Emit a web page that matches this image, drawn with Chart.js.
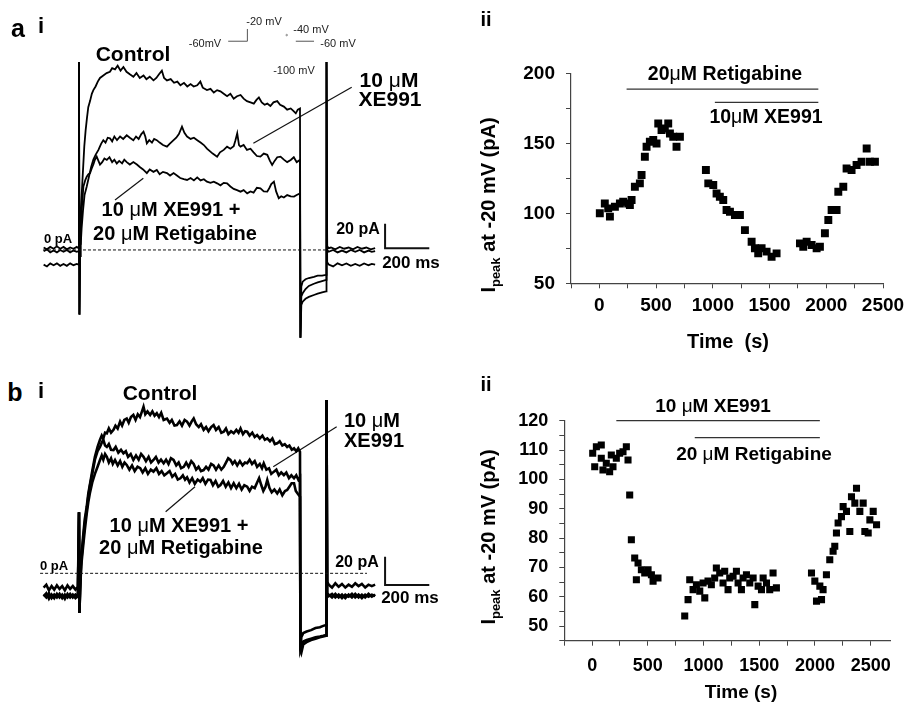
<!DOCTYPE html>
<html>
<head>
<meta charset="utf-8">
<script src="https://cdn.jsdelivr.net/npm/chart.js@4.4.1/dist/chart.umd.min.js"></script>
<style>
  body { margin: 0; background: #fff; width: 908px; height: 707px; position: relative; overflow: hidden;
         font-family: "Liberation Sans", Arial, sans-serif; }
  canvas { position: absolute; }
  .t { position: absolute; font-weight: bold; white-space: nowrap; line-height: 1;
       transform: translate(-50%, -50%); color: #000; }
  .t .mu { font-weight: normal; }
  .p { position: absolute; white-space: nowrap; line-height: 1; font-size: 11px; color: #222;
       transform: translate(-50%, -50%); }
  .yt { position: absolute; font-weight: bold; white-space: nowrap; line-height: 1; font-size: 20px;
        transform: translate(-50%, -50%) rotate(-90deg); }
  .yt sub { font-size: 13px; }
</style>
</head>
<body>

<canvas id="ai" width="410" height="300" style="left:30px;top:50px"></canvas>
<canvas id="proto" width="115" height="40" style="left:215px;top:15px"></canvas>
<canvas id="aii" width="408" height="290" style="left:500px;top:50px"></canvas>
<canvas id="bi" width="410" height="315" style="left:30px;top:385px"></canvas>
<canvas id="bii" width="418" height="317" style="left:490px;top:390px"></canvas>

<!-- panel a -->
<div class="t" style="left:18px;top:28px;font-size:25px">a</div>
<div class="t" style="left:41px;top:26px;font-size:22px">i</div>
<div class="t" style="left:486px;top:19px;font-size:20px">ii</div>
<div class="t" style="left:133px;top:53px;font-size:21px">Control</div>
<div class="t" style="left:389px;top:79px;font-size:21px">10 <span class="mu">μ</span>M</div>
<div class="t" style="left:390px;top:98px;font-size:21px">XE991</div>
<div class="t" style="left:171px;top:209px;font-size:20px">10 <span class="mu">μ</span>M XE991 +</div>
<div class="t" style="left:175px;top:233px;font-size:20px">20 <span class="mu">μ</span>M Retigabine</div>
<div class="t" style="left:58px;top:238px;font-size:13px">0 pA</div>
<div class="t" style="left:358px;top:229px;font-size:16px">20 pA</div>
<div class="t" style="left:411px;top:262px;font-size:17px">200 ms</div>
<div class="p" style="left:205px;top:43px">-60mV</div>
<div class="p" style="left:264px;top:21px">-20 mV</div>
<div class="p" style="left:311px;top:29px">-40 mV</div>
<div class="p" style="left:338px;top:43px">-60 mV</div>
<div class="p" style="left:294px;top:70px">-100 mV</div>
<div class="t" style="left:725px;top:74px;font-size:19.5px">20<span class="mu">μ</span>M Retigabine</div>
<div class="t" style="left:766px;top:117px;font-size:19.5px">10<span class="mu">μ</span>M XE991</div>
<div class="t" style="left:728px;top:341px;font-size:20px">Time&nbsp;&nbsp;(s)</div>
<div class="yt" style="left:490px;top:205px">I<sub>peak</sub> at -20 mV (pA)</div>

<!-- panel b -->
<div class="t" style="left:15px;top:392px;font-size:25px">b</div>
<div class="t" style="left:41px;top:391px;font-size:22px">i</div>
<div class="t" style="left:486px;top:384px;font-size:20px">ii</div>
<div class="t" style="left:160px;top:392px;font-size:21px">Control</div>
<div class="t" style="left:372px;top:420px;font-size:20px">10 <span class="mu">μ</span>M</div>
<div class="t" style="left:374px;top:440px;font-size:20px">XE991</div>
<div class="t" style="left:179px;top:525px;font-size:20px">10 <span class="mu">μ</span>M XE991 +</div>
<div class="t" style="left:181px;top:547px;font-size:20px">20 <span class="mu">μ</span>M Retigabine</div>
<div class="t" style="left:54px;top:565px;font-size:13px">0 pA</div>
<div class="t" style="left:357px;top:562px;font-size:16px">20 pA</div>
<div class="t" style="left:410px;top:597px;font-size:17px">200 ms</div>
<div class="t" style="left:713px;top:405px;font-size:19px">10 <span class="mu">μ</span>M XE991</div>
<div class="t" style="left:754px;top:453px;font-size:19px">20 <span class="mu">μ</span>M Retigabine</div>
<div class="t" style="left:741px;top:691px;font-size:19px">Time (s)</div>
<div class="yt" style="left:490px;top:537px">I<sub>peak</sub> at -20 mV (pA)</div>

<script>
// ---- panel a ii: peak current at -20 mV vs time ----
const aTime = [4, 48, 93, 78, 137, 181, 210, 254, 284, 269, 313, 357, 372, 401, 416, 445, 475, 504, 519, 548, 577, 607, 622, 651, 680, 710,
  939, 960, 1004, 1033, 1062, 1092, 1121, 1151, 1195, 1239, 1283, 1342, 1371, 1400, 1430, 1474, 1518, 1562,
  1768, 1797, 1827, 1871, 1915, 1944, 1988, 2018, 2047, 2091, 2106, 2150, 2179, 2223, 2267, 2311, 2356, 2385, 2429];
const aIpeak = [100, 107, 97.6, 103.5, 104.7, 107, 108.3, 107, 109.5, 105.9, 119, 121.4, 127.3, 140.4, 147.5, 151.1, 152.3, 149.9, 164.2, 159.4, 160.6, 164.2, 157, 154.7, 147.5, 154.7,
  130.9, 121.4, 120.2, 114.2, 111.8, 109.5, 102.3, 101.1, 98.8, 98.8, 88, 79.7, 75, 71.4, 75, 72.6, 69, 71.4,
  78.5, 76.1, 79.7, 77.3, 75, 76.1, 85.7, 95.2, 102.3, 102.3, 115.4, 119, 132, 130.9, 134.5, 136.8, 146.3, 136.8, 136.8];
const aRetigabinePeriod = [240, 1930];
const aXE991Period = [1018, 1930];
const aTimeTicks = [0, 500, 1000, 1500, 2000, 2500];
const aIpeakTicks = [50, 100, 150, 200];

// ---- panel b ii ----
const bTime = [5, 38, 82, 23, 82, 97, 127, 157, 172, 187, 217, 247, 277, 307, 322, 337, 352, 382, 412, 397, 442, 472, 502, 532, 547, 591,
  831, 861, 876, 906, 936, 966, 996, 1011, 1040, 1070, 1100, 1115, 1145, 1175, 1190, 1220, 1235, 1265, 1295, 1310, 1340, 1355, 1385, 1415, 1445, 1460, 1490, 1520, 1535, 1565, 1594, 1624, 1654,
  1969, 1999, 2014, 2044, 2059, 2073, 2103, 2133, 2163, 2178, 2193, 2208, 2238, 2253, 2283, 2313, 2328, 2358, 2373, 2403, 2433, 2448, 2478, 2493, 2523, 2553];
const bIpeak = [108.9, 111.1, 111.7, 104.3, 107.2, 103.2, 105.5, 102.6, 108.3, 104.3, 107.2, 108.9, 109.4, 111.1, 106.6, 94.7, 79.4, 73.2, 71.5, 65.8, 69.2, 68.1, 69.2, 67.5, 65.3, 66.4,
  53.4, 59, 65.8, 62.4, 64.1, 61.9, 64.7, 59.6, 65.3, 64.1, 66.4, 69.8, 68.1, 64.7, 68.7, 62.4, 66.4, 67, 68.7, 64.7, 62.4, 66.4, 67.5, 64.7, 66.4, 57.3, 63.6, 62.4, 66.4, 64.7, 62.4, 68.1, 63,
  68.1, 65.3, 58.5, 63.6, 59, 62.4, 67.5, 72.6, 75.5, 77.2, 81.7, 85.1, 87.3, 90.7, 89.1, 82.2, 94.1, 91.9, 97, 89.1, 91.9, 82.2, 81.7, 86.2, 89.1, 84.5];
const bXE991Period = [217, 2044];
const bRetigabinePeriod = [921, 2044];
const bTimeTicks = [0, 500, 1000, 1500, 2000, 2500];
const bIpeakTicks = [50, 60, 70, 80, 90, 100, 110, 120];

// ---- current traces [ms, pA] ----
const aControlTrace = [[-160,2],[-145,0.5],[-130,2.5],[-115,1],[-100,3],[-85,1],[-70,2.5],[-55,0.5],[-40,2],[-25,1],[-10,2.5],[-2,1.5],
  [0,154],[2,-53],[5,10],[8,30],[12,45],[18,65],[24,85],[30,98],[36,108],[42,117],[50,122],[58,128],[65,131],[75,134],[85,138],[95,141],
  [110,143],[125,145],[140,146],[150,149],[163,148],[175,151],[188,147],[201,150],[215,146],[230,144],[246,142],[260,145],[275,141],[292,143],
  [305,140],[320,142],[337,139],[350,141],[362,144],[375,147],[385,141],[398,139],[415,140],[430,137],[445,138],[459,135],[475,137],[490,134],
  [505,136],[519,134],[535,135],[549,138],[560,133],[579,131],[595,132],[610,129],[625,131],[640,130],[655,128],[670,126],[685,128],[700,124],
  [715,126],[731,127],[745,124],[760,122],[776,121],[791,120],[803,123],[814,125],[827,121],[840,119],[852,120],[866,118],[880,121],[897,122],
  [910,119],[927,117.5],[942,115],[958,116],[970,114],[981,112],[990,115],[1000,116],
  [1002,-72],[1006,-30],[1012,-26],[1025,-24],[1040,-23],[1063,-22],[1080,-21],[1100,-21],[1118,-20.5],
  [1120,154],[1123,3],[1130,1.5],[1140,2],[1160,0.5],[1180,2.5],[1200,1],[1220,2],[1240,0.5],[1260,2.5],[1280,1],[1300,2],[1320,0.5],[1340,1.5]];
const aXE991Trace = [[-160,-12],[-145,-13.5],[-130,-11],[-115,-12.5],[-100,-11],[-85,-13],[-70,-11.5],[-55,-13],[-40,-11],[-25,-12.5],[-10,-11.5],[-2,-12],
  [0,154],[2,-53],[5,-5],[8,5],[12,18],[18,32],[25,45],[35,52],[45,60],[55,68],[65,74],[75,78],[88,82],[100,87],[110,90],[120,88],[130,92],
  [140,91.5],[150,89],[160,93],[172,90],[186,93],[200,91],[216,94],[230,92],[246,90],[258,93],[270,91],[282,95],[292,97],[300,93],[307,87.4],
  [318,90],[330,88],[340,91],[352,90],[365,88],[380,86],[398,84.7],[410,87],[428,90],[440,92],[452,95],[466,101],[477,96],[489,93],[505,91],
  [520,92],[535,90],[550,88],[565,86],[579,83],[592,81],[605,79],[625,76.5],[638,80],[655,82],[670,84.7],[685,83],[700,85],[708,90],[716,95.6],
  [724,86],[731,84.7],[745,86],[760,82],[776,83],[790,80],[805,77],[821,76.5],[836,79],[852,78],[864,73],[874,69.7],[885,73],[897,76],[912,76.5],
  [927,74],[942,72],[958,73.8],[972,76],[985,72],[1000,73.8],
  [1002,-72],[1006,-38],[1012,-35.5],[1025,-32],[1040,-29.5],[1063,-27.7],[1080,-26.5],[1100,-25.5],[1118,-24.6],
  [1120,154],[1123,-10],[1130,-12],[1150,-13.5],[1170,-11],[1190,-12.5],[1210,-11],[1230,-13],[1250,-11.5],[1270,-13],[1290,-11],[1310,-12.5],[1325,-11.5],[1340,-12]];
const aXE991RetTrace = [[-160,-1],[-145,0.5],[-130,-2],[-115,-0.5],[-100,-2],[-85,0],[-70,-1.5],[-55,0],[-40,-2],[-25,-0.5],[-10,-1.5],[-2,-1],
  [0,154],[2,-53],[5,5],[8,20],[12,32],[16,42],[20,52],[28,57],[35,60],[42,62],[50,63],[58,67],[65,70],[72,74],[80,76.5],[88,73],[95,70],
  [105,72],[115,75],[126,73.8],[138,76],[150,72],[160,74],[171,70.9],[182,73],[195,71],[205,74],[216,72],[230,70],[246,72],[262,70],[275,68],
  [290,66],[307,63],[320,66],[337,64],[352,65.6],[365,62],[380,64],[398,63],[412,61],[428,63],[443,61],[458,59],[474,58],[489,57.4],[505,59],
  [520,57],[535,59.5],[550,57],[565,58],[579,56],[595,55],[610,56],[625,54.6],[640,53],[655,55],[670,54.6],[685,52],[700,50],[715,49],[731,47.8],
  [745,49],[761,46.4],[776,48],[790,47],[805,51],[821,50.5],[836,48],[852,47.8],[862,51],[870,54],[882,56],[892,48],[904,42.4],[915,44],[927,43],
  [942,45],[958,44],[973,43.7],[985,45],[1000,46.4],
  [1002,-72],[1006,-45],[1012,-42.4],[1025,-40],[1040,-38.5],[1063,-36.9],[1080,-35.8],[1100,-34.8],[1118,-34],
  [1120,154],[1123,0],[1130,-1.5],[1150,0],[1170,-2],[1190,-0.5],[1210,-2],[1230,0],[1250,-1.5],[1270,0],[1290,-2],[1310,-0.5],[1325,-1.5],[1340,-1]];

const bControlTrace = [[-160,-10],[-148,-8],[-136,-12],[-124,-9],[-112,-11.5],[-100,-8.5],[-88,-11],[-76,-9],[-64,-12],[-52,-8.5],[-40,-11],[-28,-9],[-16,-11.5],[-5,-9.5],
  [0,43],[2,-28],[5,-8],[10,10],[18,25],[26,38],[35,47],[42,56],[50,63],[60,72],[72,82],[84,89],[95,94],[103,97],[110,95],[118,99],[126,98.6],
  [135,102],[145,99],[156,101],[165,104],[175,102],[186,106.8],[195,104],[205,108],[216,109],[225,106],[235,110],[246,111.5],[256,108],[266,112],
  [276,110],[285,114],[292,117.3],[300,112],[310,114],[322,111.5],[332,114],[342,111],[352,112.7],[362,110],[372,113],[383,108],[398,109],[410,106],
  [420,108],[432,104],[443,104.4],[455,107],[466,104],[478,108],[489,106.8],[500,104],[510,107],[519,109],[530,105],[542,103],[552,105],[564,101],
  [575,103],[586,100],[598,103],[609,104.4],[620,101],[632,103],[644,99],[655,99.7],[665,102],[676,98],[688,100],[700,98.6],[712,101],[722,99],
  [731,102],[742,98],[752,100],[761,99.7],[772,97],[784,99],[795,96],[806,97.4],[818,95],[830,97],[841,94],[852,95],[864,93],[875,95],[886,91],
  [897,91.5],[908,93],[920,90],[931,91],[942,89],[952,90],[963,87],[973,88],[983,86],[992,88],[1000,85.6],
  [1002,-54],[1006,-45],[1015,-42],[1030,-41],[1050,-40],[1070,-38.5],[1090,-38],[1105,-37],[1118,-36.4],
  [1120,122],[1123,-6],[1130,-8],[1145,-10],[1160,-7],[1175,-9.5],[1190,-7.5],[1205,-10],[1220,-8],[1235,-9.5],[1250,-7],[1265,-9],[1280,-7.5],[1295,-10],[1310,-8],[1325,-9],[1340,-8]];
const bXE991Trace = [[-160,-16],[-148,-14],[-136,-18],[-124,-15],[-112,-17.5],[-100,-14.5],[-88,-17],[-76,-15],[-64,-18],[-52,-14.5],[-40,-17],[-28,-15],[-16,-17.5],[-5,-16],
  [0,43],[2,-28],[5,-12],[10,8],[18,22],[26,35],[35,45],[42,54],[50,62],[60,70],[72,80],[84,86],[95,89],[103,92],[110,94],[118,90],[126,89],
  [135,91],[145,87],[156,86.8],[166,89],[178,85],[190,87],[201,84.5],[212,86],[222,82],[234,84],[246,79.8],[258,83],[270,80],[281,84],[292,82],
  [303,79],[315,82],[326,78],[337,79.8],[348,82],[360,78],[371,80],[383,77.5],[394,80],[405,77],[416,81],[428,79.8],[440,76],[451,78],[462,74],
  [474,75],[485,78],[496,75],[508,79],[519,77],[530,73],[541,75],[552,72],[564,72.7],[575,75],[586,73],[598,77],[609,76],[620,73],[632,76],
  [644,73],[655,75],[665,78],[675,81],[685,79.8],[695,77],[705,79],[716,76],[728,79],[740,76],[751,78],[761,77.5],[772,80],[783,77],[795,79],
  [806,75],[818,77],[828,74],[836,77.5],[848,73],[860,74],[870,70],[882,71.6],[893,73],[904,69],[915,71],[927,69.2],[938,71],[950,67],[961,69],
  [973,66.9],[983,69],[992,66],[1000,67.6],
  [1002,-54],[1006,-52],[1015,-48],[1030,-47],[1050,-46],[1070,-45],[1090,-44.5],[1105,-44],[1118,-43.5],
  [1120,122],[1123,-14],[1130,-16],[1145,-14.5],[1160,-17],[1175,-15],[1190,-17.5],[1205,-15],[1220,-16.5],[1235,-14.5],[1250,-17],[1265,-15],[1280,-17.5],[1295,-15],[1310,-16.5],[1325,-15],[1340,-16]];
const bXE991RetTrace = [[-160,-15],[-148,-17],[-136,-14],[-124,-17.5],[-112,-15],[-100,-17],[-88,-14.5],[-76,-17.5],[-64,-15],[-52,-17],[-40,-14.5],[-28,-17],[-16,-15],[-5,-16.5],
  [0,43],[2,-28],[5,-12],[10,5],[18,18],[26,30],[35,42],[42,50],[50,57],[60,64],[72,70],[84,75],[95,79.8],[103,83],[110,80],[118,84],[126,82],
  [135,78],[145,81],[153,77],[163,79.8],[175,76],[186,79],[196,75],[206,78],[216,76.3],[228,73],[240,76],[252,72],[265,75],[277,74],[288,71],
  [300,74],[312,70],[325,73],[337,71.6],[350,74],[362,70],[374,72],[386,69],[398,70.4],[410,72],[422,68],[435,70],[447,66],[459,66.9],[470,69],
  [480,66],[489,67.6],[500,64],[512,67],[524,63],[537,66],[549,64.5],[560,67],[572,63],[584,66],[595,65.7],[606,62],[618,65],[630,61],[640,62.2],
  [652,65],[664,61],[676,64],[688,60],[700,63.4],[712,60],[724,63],[736,59],[748,62],[761,61],[772,58],[783,61],[795,60],[806,64],[815,67],
  [825,62],[834,58],[844,61],[852,65.7],[862,60],[872,57],[884,59],[897,56.3],[908,59],[920,55],[932,58],[942,58.7],[952,61],[962,63.4],[973,63.4],
  [981,58],[990,56],[1000,54],
  [1002,-54],[1006,-56],[1015,-50],[1030,-48.5],[1050,-47],[1070,-46],[1090,-45],[1105,-44.5],[1118,-44],
  [1120,122],[1123,-14],[1130,-15],[1145,-17],[1160,-14.5],[1175,-17],[1190,-15],[1205,-17.5],[1220,-15],[1235,-17],[1250,-14.5],[1265,-17],[1280,-15],[1295,-17],[1310,-14.5],[1325,-16.5],[1340,-15]];

// voltage protocol inset [ms, mV]
const protocolStart = [[-400, -60], [0, -60], [0, -20]];
const protocolMid = [[820, -40]];
const protocolEnd = [[1010, -60], [1390, -60]];

const xy = pairs => pairs.map(([x, y]) => ({ x, y }));
const zip = (xs, ys) => xs.map((x, i) => ({ x, y: ys[i] }));
const FONT = 'Liberation Sans, Arial, sans-serif';

function trace(pairs, width) {
  return { data: xy(pairs), borderColor: '#000', borderWidth: width, pointRadius: 0, tension: 0 };
}
function thin(pairs, width, dash) {
  return { data: xy(pairs), borderColor: '#111', borderWidth: width, borderDash: dash || [], pointRadius: 0, clip: false };
}
function hiddenScales(x0, x1, y0, y1) {
  return {
    x: { type: 'linear', min: x0, max: x1, display: false },
    y: { type: 'linear', min: y0, max: y1, display: false }
  };
}
const plain = {
  responsive: false, animation: false, events: [],
  plugins: { legend: { display: false }, tooltip: { enabled: false } },
  layout: { padding: 0 }
};

// Panel a i traces
new Chart(document.getElementById('ai'), {
  type: 'line',
  data: {
    datasets: [
      thin([[-163, 0], [1122, 0]], 1, [3, 2]),
      trace(aControlTrace, 1.8),
      trace(aXE991Trace, 1.8),
      trace(aXE991RetTrace, 1.8),
      thin([[789, 87.5], [1234, 133.4]], 1.2),
      thin([[291, 58.8], [163, 41]], 1.2),
      thin([[1385, 21.4], [1385, 1.4], [1585, 1.4]], 2)
    ]
  },
  options: { ...plain, scales: hiddenScales(-221.7, 1633.5, -82, 163.9) }
});

// protocol inset
new Chart(document.getElementById('proto'), {
  type: 'line',
  data: {
    datasets: [
      { data: xy(protocolStart), borderColor: '#555', borderWidth: 1, pointRadius: 0 },
      { data: xy(protocolMid), borderColor: '#999', backgroundColor: '#999', pointRadius: 0.8, showLine: false },
      { data: xy(protocolEnd), borderColor: '#555', borderWidth: 1, pointRadius: 0 }
    ]
  },
  options: { ...plain, scales: hiddenScales(-571, 1619, -88.7, 9.4) }
});

// Panel b i traces (noisier recording -> heavier line)
new Chart(document.getElementById('bi'), {
  type: 'line',
  data: {
    datasets: [
      thin([[-176, 0], [1303, 0]], 1, [3, 2]),
      trace(bControlTrace, 2.6),
      trace(bXE991Trace, 2.6),
      trace(bXE991RetTrace, 2.6),
      thin([[879, 75], [1166, 103.2]], 1.2),
      thin([[525, 61], [392, 43.4]], 1.2),
      thin([[1385, 11.7], [1385, -8.2], [1585, -8.2]], 2)
    ]
  },
  options: { ...plain, scales: hiddenScales(-221.7, 1633.5, -89.2, 132.6) }
});

function axis(opts) {
  return {
    type: 'linear', min: opts.min, max: opts.max,
    ticks: {
      stepSize: opts.step, autoSkip: false, maxRotation: 0, includeBounds: false,
      padding: opts.pad, color: '#000',
      font: { family: FONT, weight: 'bold', size: opts.size },
      callback: v => opts.labels.some(l => Math.abs(l - v) < 1e-6) ? String(Math.round(v)) : ''
    },
    grid: { display: true, drawOnChartArea: false, drawTicks: true, tickLength: 5, color: '#444' },
    border: { display: true, color: '#444', width: 1.2 },
    afterFit: s => {
      if (opts.w) s.width = opts.w;
      if (opts.h) s.height = opts.h;
      s.paddingLeft = s.paddingRight = s.paddingTop = s.paddingBottom = 0;
    }
  };
}
function period(range, level) {
  return { type: 'line', data: [{ x: range[0], y: level }, { x: range[1], y: level }],
           borderColor: '#333', borderWidth: 1.2, pointRadius: 0, clip: false };
}

// Panel a ii
new Chart(document.getElementById('aii'), {
  type: 'scatter',
  data: {
    datasets: [
      { data: zip(aTime, aIpeak), pointStyle: 'rect', pointRadius: 5.6, backgroundColor: '#000', borderWidth: 0 },
      period(aRetigabinePeriod, 188.7),
      period(aXE991Period, 179.2)
    ]
  },
  options: {
    ...plain,
    layout: { padding: { left: 0, right: 25, top: 23.3, bottom: 0 } },
    scales: {
      x: axis({ min: -250, max: 2500, step: 250, labels: aTimeTicks, pad: 6, size: 19, h: 56.7 }),
      y: axis({ min: 50, max: 200, step: 25, labels: aIpeakTicks, pad: 11, size: 19, w: 71 })
    }
  }
});

// Panel b ii
new Chart(document.getElementById('bii'), {
  type: 'scatter',
  data: {
    datasets: [
      { data: zip(bTime, bIpeak), pointStyle: 'rect', pointRadius: 5, backgroundColor: '#000', borderWidth: 0 },
      period(bXE991Period, 120),
      period(bRetigabinePeriod, 114.2)
    ]
  },
  options: {
    ...plain,
    layout: { padding: { left: 0, right: 17.3, top: 30.7, bottom: 0 } },
    scales: {
      x: axis({ min: -250, max: 2680, step: 250, labels: bTimeTicks, pad: 10, size: 18, h: 66.3 }),
      y: axis({ min: 45, max: 120, step: 5, labels: bIpeakTicks, pad: 11, size: 18, w: 74.3 })
    }
  }
});
</script>
</body>
</html>
